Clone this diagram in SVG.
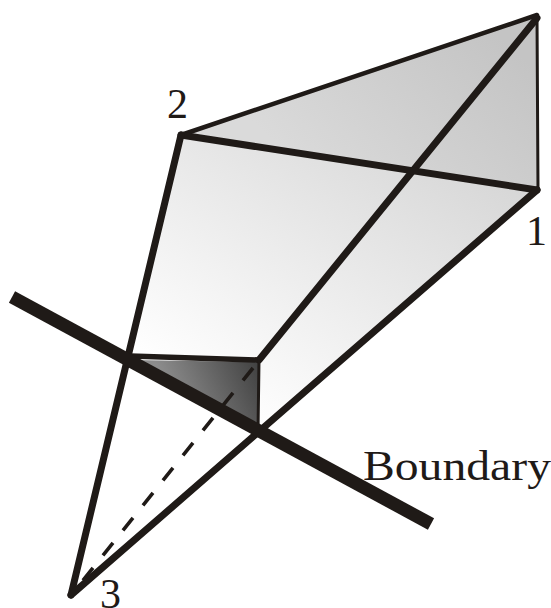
<svg xmlns="http://www.w3.org/2000/svg" width="551" height="608" viewBox="0 0 551 608">
<style>
.e{fill:none;stroke:#1f1a17;stroke-linecap:round;stroke-linejoin:miter}
.t{font-family:"Liberation Serif",serif;fill:#1f1a17;font-size:42px}
</style>
<defs>
<linearGradient id="g1" gradientUnits="userSpaceOnUse" x1="190" y1="390" x2="380" y2="90"><stop offset="0" stop-color="#ffffff"/><stop offset="1" stop-color="#d6d6d6"/></linearGradient>
<linearGradient id="g2" gradientUnits="userSpaceOnUse" x1="330" y1="190" x2="480" y2="20"><stop offset="0" stop-color="#dadada"/><stop offset="1" stop-color="#c4c4c4"/></linearGradient>
<linearGradient id="g3" gradientUnits="userSpaceOnUse" x1="170" y1="395" x2="262" y2="355"><stop offset="0" stop-color="#8c8c8c"/><stop offset="1" stop-color="#3c3c3c"/></linearGradient>
</defs>
<g id="faces">
<polygon points="181,135 538,190 258,432 259,360 130,357" fill="url(#g1)"/>
<polygon points="181,135 536,16 538,190" fill="url(#g2)"/>
<polygon points="133,360 259,362 258,430" fill="url(#g3)"/>
</g>
<g id="connectors">
<line x1="253" y1="368" x2="72" y2="594" stroke="#1f1a17" stroke-width="3.6" stroke-dasharray="16,16"/>
<line class="e" x1="181" y1="135" x2="537" y2="15" stroke-width="4.5"/>
<line class="e" x1="537" y1="16" x2="538" y2="190" stroke-width="3"/>
<line class="e" x1="259" y1="360" x2="537" y2="18" stroke-width="7"/>
<line class="e" x1="181" y1="135" x2="537" y2="190" stroke-width="7"/>
<line class="e" x1="181" y1="135" x2="71" y2="595" stroke-width="7"/>
<line class="e" x1="537" y1="190" x2="71" y2="595" stroke-width="7"/>
<line class="e" x1="130" y1="356" x2="259" y2="360" stroke-width="5.5"/>
<line class="e" x1="259" y1="360" x2="258" y2="432" stroke-width="3"/>
<line x1="12" y1="297" x2="431" y2="524" stroke="#1f1a17" stroke-width="13"/>
</g>
<g id="label-1"><text class="t" x="526" y="245">1</text></g>
<g id="label-2"><text class="t" x="167" y="118">2</text></g>
<g id="label-3"><text class="t" x="100" y="608" font-size="40">3</text></g>
<g id="label-boundary"><text class="t" x="363" y="480" textLength="188" lengthAdjust="spacingAndGlyphs">Boundary</text></g>
</svg>
